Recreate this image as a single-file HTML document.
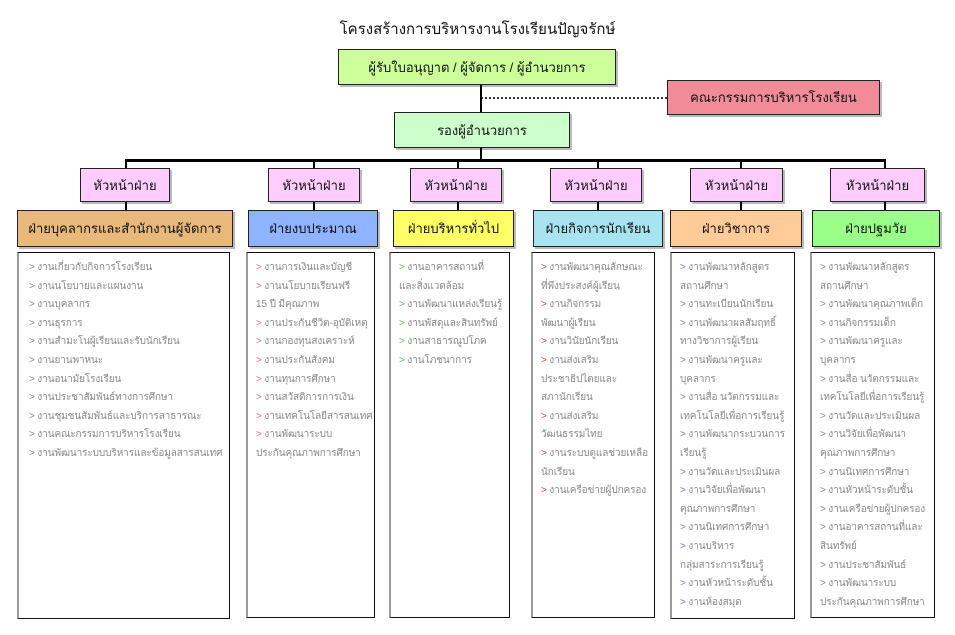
<!DOCTYPE html>
<html><head><meta charset="utf-8"><style>
body{margin:0;width:955px;height:635px;background:#fff;position:relative;overflow:hidden;font-family:"Liberation Sans","DejaVu Sans",sans-serif;}
.b{position:absolute;box-sizing:border-box;border:1px solid #222;display:flex;align-items:center;justify-content:center;font-size:13px;color:#111;box-shadow:2px 2px 0 #bbb;}
.l{position:absolute;background:#000;}
.c{position:absolute;box-sizing:border-box;border:1px solid #111;border-left:2px solid #999;padding:6px 0 0 8px;font-size:10px;color:#888;line-height:18.6px;white-space:nowrap;overflow:hidden;letter-spacing:-0.1px;}
.c i{font-style:normal;}
.t{position:absolute;left:0;width:955px;top:17px;text-align:center;font-size:15px;color:#111;}
</style></head><body>
<div class="t">โครงสร้างการบริหารงานโรงเรียนปัญจรักษ์</div>
<div class="b" style="left:338px;top:49px;width:278px;height:36px;background:#ccff99">ผู้รับใบอนุญาต / ผู้จัดการ / ผู้อำนวยการ</div>
<div class="b" style="left:667px;top:80px;width:213px;height:35px;background:#f08c98">คณะกรรมการบริหารโรงเรียน</div>
<div style="position:absolute;left:481px;top:97px;width:186px;border-top:2px dotted #333"></div>
<div class="l" style="left:480px;top:85px;width:2px;height:27px"></div>
<div class="b" style="left:394px;top:112px;width:176px;height:36px;background:#ccffcc">รองผู้อำนวยการ</div>
<div class="l" style="left:480px;top:148px;width:2px;height:12px"></div>
<div class="l" style="left:125px;top:159px;width:761px;height:3px"></div>
<div class="l" style="left:125px;top:160px;width:2px;height:8px"></div>
<div class="l" style="left:313px;top:160px;width:2px;height:8px"></div>
<div class="l" style="left:457px;top:160px;width:2px;height:8px"></div>
<div class="l" style="left:597px;top:160px;width:2px;height:8px"></div>
<div class="l" style="left:740px;top:160px;width:2px;height:8px"></div>
<div class="l" style="left:884px;top:160px;width:2px;height:8px"></div>

<div class="b" style="left:80px;top:168px;width:90px;height:34px;background:#ffccff">หัวหน้าฝ่าย</div>
<div class="b" style="left:268px;top:168px;width:92px;height:34px;background:#ffccff">หัวหน้าฝ่าย</div>
<div class="b" style="left:410px;top:168px;width:92px;height:34px;background:#ffccff">หัวหน้าฝ่าย</div>
<div class="b" style="left:550px;top:168px;width:92px;height:34px;background:#ffccff">หัวหน้าฝ่าย</div>
<div class="b" style="left:690px;top:168px;width:93px;height:34px;background:#ffccff">หัวหน้าฝ่าย</div>
<div class="b" style="left:830px;top:168px;width:95px;height:34px;background:#ffccff">หัวหน้าฝ่าย</div>

<div class="l" style="left:125px;top:202px;width:2px;height:8px"></div>
<div class="l" style="left:313px;top:202px;width:2px;height:8px"></div>
<div class="l" style="left:457px;top:202px;width:2px;height:8px"></div>
<div class="l" style="left:597px;top:202px;width:2px;height:8px"></div>
<div class="l" style="left:740px;top:202px;width:2px;height:8px"></div>
<div class="l" style="left:884px;top:202px;width:2px;height:8px"></div>

<div class="b" style="left:17px;top:210px;width:216px;height:37px;background:#e8b97a">ฝ่ายบุคลากรและสำนักงานผู้จัดการ</div>
<div class="b" style="left:248px;top:210px;width:130px;height:37px;background:#8fb3ff">ฝ่ายงบประมาณ</div>
<div class="b" style="left:393px;top:210px;width:121px;height:37px;background:#ffff66">ฝ่ายบริหารทั่วไป</div>
<div class="b" style="left:533px;top:210px;width:130px;height:37px;background:#a8e4f0">ฝ่ายกิจการนักเรียน</div>
<div class="b" style="left:670px;top:210px;width:132px;height:37px;background:#ffcc99">ฝ่ายวิชาการ</div>
<div class="b" style="left:812px;top:210px;width:128px;height:37px;background:#99ff88">ฝ่ายปฐมวัย</div>

<div class="c" style="left:17px;top:252px;width:213px;height:367px;padding-left:10px">
<i>&gt;</i> งานเกี่ยวกับกิจการโรงเรียน<br><i>&gt;</i> งานนโยบายและแผนงาน<br><i>&gt;</i> งานบุคลากร<br><i>&gt;</i> งานธุรการ<br><i>&gt;</i> งานสำมะโนผู้เรียนและรับนักเรียน<br><i>&gt;</i> งานยานพาหนะ<br><i>&gt;</i> งานอนามัยโรงเรียน<br><i>&gt;</i> งานประชาสัมพันธ์ทางการศึกษา<br><i>&gt;</i> งานชุมชนสัมพันธ์และบริการสาธารณะ<br><i>&gt;</i> งานคณะกรรมการบริหารโรงเรียน<br><i>&gt;</i> งานพัฒนาระบบบริหารและข้อมูลสารสนเทศ</div>
<div class="c" style="left:246px;top:252px;width:129px;height:366px">
<i style="color:#f07090">&gt;</i> งานการเงินและบัญชี<br><i style="color:#f07090">&gt;</i> งานนโยบายเรียนฟรี<br>15 ปี มีคุณภาพ<br><i style="color:#f07090">&gt;</i> งานประกันชีวิต-อุบัติเหตุ<br><i style="color:#f07090">&gt;</i> งานกองทุนสงเคราะห์<br><i style="color:#f07090">&gt;</i> งานประกันสังคม<br><i style="color:#f07090">&gt;</i> งานทุนการศึกษา<br><i style="color:#f07090">&gt;</i> งานสวัสดิการการเงิน<br><i style="color:#f07090">&gt;</i> งานเทคโนโลยีสารสนเทศ<br><i style="color:#f07090">&gt;</i> งานพัฒนาระบบ<br>ประกันคุณภาพการศึกษา</div>
<div class="c" style="left:389px;top:252px;width:121px;height:366px">
<i style="color:#60c060">&gt;</i> งานอาคารสถานที่<br>และสิ่งแวดล้อม<br><i style="color:#60c060">&gt;</i> งานพัฒนาแหล่งเรียนรู้<br><i style="color:#60c060">&gt;</i> งานพัสดุและสินทรัพย์<br><i style="color:#60c060">&gt;</i> งานสาธารณูปโภค<br><i style="color:#60c060">&gt;</i> งานโภชนาการ</div>
<div class="c" style="left:531px;top:252px;width:124px;height:366px">
<i style="color:#e04040">&gt;</i> งานพัฒนาคุณลักษณะ<br>ที่พึงประสงค์ผู้เรียน<br><i style="color:#e04040">&gt;</i> งานกิจกรรม<br>พัฒนาผู้เรียน<br><i style="color:#e04040">&gt;</i> งานวินัยนักเรียน<br><i style="color:#e04040">&gt;</i> งานส่งเสริม<br>ประชาธิปไตยและ<br>สภานักเรียน<br><i style="color:#e04040">&gt;</i> งานส่งเสริม<br>วัฒนธรรมไทย<br><i style="color:#e04040">&gt;</i> งานระบบดูแลช่วยเหลือ<br>นักเรียน<br><i style="color:#e04040">&gt;</i> งานเครือข่ายผู้ปกครอง</div>
<div class="c" style="left:670px;top:252px;width:125px;height:367px">
<i style="color:#8080e0">&gt;</i> งานพัฒนาหลักสูตร<br>สถานศึกษา<br><i style="color:#8080e0">&gt;</i> งานทะเบียนนักเรียน<br><i style="color:#8080e0">&gt;</i> งานพัฒนาผลสัมฤทธิ์<br>ทางวิชาการผู้เรียน<br><i style="color:#8080e0">&gt;</i> งานพัฒนาครูและ<br>บุคลากร<br><i style="color:#8080e0">&gt;</i> งานสื่อ นวัตกรรมและ<br>เทคโนโลยีเพื่อการเรียนรู้<br><i style="color:#8080e0">&gt;</i> งานพัฒนากระบวนการ<br>เรียนรู้<br><i style="color:#8080e0">&gt;</i> งานวัดและประเมินผล<br><i style="color:#8080e0">&gt;</i> งานวิจัยเพื่อพัฒนา<br>คุณภาพการศึกษา<br><i style="color:#8080e0">&gt;</i> งานนิเทศการศึกษา<br><i style="color:#8080e0">&gt;</i> งานบริหาร<br>กลุ่มสาระการเรียนรู้<br><i style="color:#8080e0">&gt;</i> งานหัวหน้าระดับชั้น<br><i style="color:#8080e0">&gt;</i> งานห้องสมุด</div>
<div class="c" style="left:810px;top:252px;width:125px;height:366px">
<i>&gt;</i> งานพัฒนาหลักสูตร<br>สถานศึกษา<br><i>&gt;</i> งานพัฒนาคุณภาพเด็ก<br><i>&gt;</i> งานกิจกรรมเด็ก<br><i>&gt;</i> งานพัฒนาครูและ<br>บุคลากร<br><i>&gt;</i> งานสื่อ นวัตกรรมและ<br>เทคโนโลยีเพื่อการเรียนรู้<br><i>&gt;</i> งานวัดและประเมินผล<br><i>&gt;</i> งานวิจัยเพื่อพัฒนา<br>คุณภาพการศึกษา<br><i>&gt;</i> งานนิเทศการศึกษา<br><i>&gt;</i> งานหัวหน้าระดับชั้น<br><i>&gt;</i> งานเครือข่ายผู้ปกครอง<br><i>&gt;</i> งานอาคารสถานที่และ<br>สินทรัพย์<br><i>&gt;</i> งานประชาสัมพันธ์<br><i>&gt;</i> งานพัฒนาระบบ<br>ประกันคุณภาพการศึกษา</div>
</body></html>
